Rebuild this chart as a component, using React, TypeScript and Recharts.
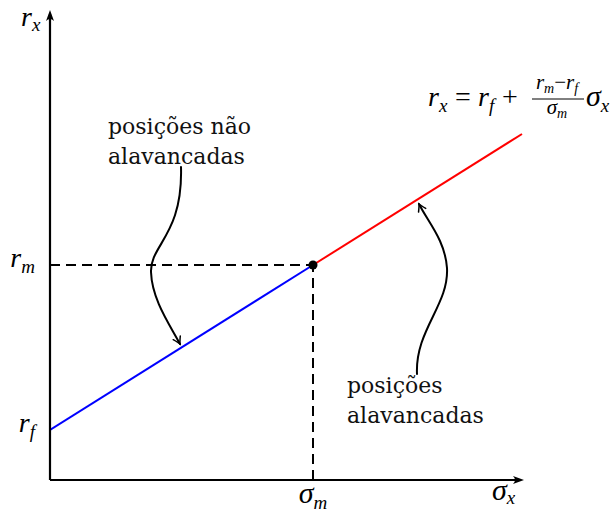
import React from "react";
import {
  ComposedChart,
  Line,
  XAxis,
  YAxis,
  ReferenceLine,
  ReferenceDot,
  Customized,
} from "recharts";

// retorno do ativo livre de risco e da carteira de mercado
const RF = 1;
const RM = 4.3;
const SIGMA_M = 5.26;

const X_MAX = 9.48;
const Y_MAX = 9.4;

// reta do mercado de capitais, dividida no ponto da carteira de mercado
const naoAlavancadas = [
  { x: 0, y: RF },
  { x: SIGMA_M, y: RM },
];
const alavancadas = [
  { x: SIGMA_M, y: RM },
  { x: 9.44, y: 6.92 },
];

const xTicks = [SIGMA_M];
const xTickNames = [["σ", "m"]];
const yTicks = [RF, RM];
const yTickNames = [
  ["r", "f"],
  ["r", "m"],
];

const MATH = "'Liberation Serif', serif";
const TEXT = "'DejaVu Serif', serif";

function MathSym({ x, y, base, sub, anchor = "start", size = 28, subSize = 19, drop = 6 }: any) {
  return (
    <text x={x} y={y} fontFamily={MATH} fontStyle="italic" fontSize={size} textAnchor={anchor} fill="#000">
      <tspan>{base}</tspan>
      <tspan dy={drop} fontSize={subSize}>
        {sub}
      </tspan>
    </text>
  );
}

function XTick(props: any) {
  const i = xTicks.indexOf(props.payload.value);
  const [base, sub] = xTickNames[i] ?? ["", ""];
  return <MathSym x={props.x} y={503} base={base} sub={sub} anchor="middle" size={30} />;
}

function YTick(props: any) {
  const i = yTicks.indexOf(props.payload.value);
  const [base, sub] = yTickNames[i] ?? ["", ""];
  return <MathSym x={35} y={props.y + 2} base={base} sub={sub} anchor="end" />;
}

// seta cheia no fim dos eixos
function arrowAxis(p: any) {
  const { x1, y1, x2, y2 } = p;
  const len = Math.hypot(x2 - x1, y2 - y1) || 1;
  const ux = (x2 - x1) / len;
  const uy = (y2 - y1) / len;
  const nx = -uy;
  const ny = ux;
  const L = 11;
  const W = 4;
  const head = `M${x2},${y2} L${x2 - L * ux + W * nx},${y2 - L * uy + W * ny} Q${x2 - 7 * ux},${y2 - 7 * uy} ${x2 - L * ux - W * nx},${y2 - L * uy - W * ny} Z`;
  return (
    <g>
      <line x1={x1} y1={y1} x2={x2 - 4 * ux} y2={y2 - 4 * uy} stroke="#000" strokeWidth={2.2} />
      <path d={head} fill="#000" />
    </g>
  );
}

function curveArrow(d: string, tx: number, ty: number, cx: number, cy: number) {
  const len = Math.hypot(tx - cx, ty - cy) || 1;
  const ux = (tx - cx) / len;
  const uy = (ty - cy) / len;
  const nx = -uy;
  const ny = ux;
  const head = `M${tx - 7 * ux + 4 * nx},${ty - 7 * uy + 4 * ny} Q${tx - 2 * ux + 0.8 * nx},${ty - 2 * uy + 0.8 * ny} ${tx},${ty} Q${tx - 2 * ux - 0.8 * nx},${ty - 2 * uy - 0.8 * ny} ${tx - 7 * ux - 4 * nx},${ty - 7 * uy - 4 * ny}`;
  return (
    <g fill="none" stroke="#000" strokeWidth={2} strokeLinecap="round">
      <path d={d} />
      <path d={head} strokeWidth={1.5} />
    </g>
  );
}

function Anotacoes() {
  return (
    <g>
      <MathSym x={21} y={26} base="r" sub="x" drop={5} />
      <MathSym x={492} y={500} base="σ" sub="x" drop={4} size={30} />

      {/* equação da reta */}
      <MathSym x={428} y={106} base="r" sub="x" />
      <text x={455} y={106} fontFamily={MATH} fontSize={28}>=</text>
      <MathSym x={478} y={106} base="r" sub="f" />
      <text x={502} y={106} fontFamily={MATH} fontSize={28}>+</text>
      <text x={557} y={89} fontFamily={MATH} fontStyle="italic" fontSize={21} textAnchor="middle">
        <tspan>r</tspan>
        <tspan dy={4} fontSize={14}>m</tspan>
        <tspan dy={-4} fontStyle="normal">−</tspan>
        <tspan>r</tspan>
        <tspan dy={4} fontSize={14}>f</tspan>
      </text>
      <line x1={532} y1={99} x2={584} y2={99} stroke="#000" strokeWidth={1} />
      <MathSym x={557} y={114} base="σ" sub="m" anchor="middle" size={21} subSize={14} drop={4} />
      <MathSym x={586} y={106} base="σ" sub="x" size={30} />

      <text fontFamily={TEXT} fontSize={22} fill="#111">
        <tspan x={108} y={134}>posições não</tspan>
        <tspan x={108} y={164}>alavancadas</tspan>
      </text>
      <text fontFamily={TEXT} fontSize={22} fill="#111">
        <tspan x={347} y={393}>posições</tspan>
        <tspan x={347} y={423}>alavancadas</tspan>
      </text>

      {curveArrow("M181,167 C183,235 150,245 151,272 C152,300 170,325 180,344", 180, 344, 170, 325)}
      {curveArrow("M417,374 C415,330 449,305 447,268 C445,240 428,222 419,204", 419, 204, 428, 222)}
    </g>
  );
}

export default function App() {
  return (
    <div style={{ position: "absolute", left: 0, top: 0, background: "#fff" }}>
      <ComposedChart width={615} height={512} margin={{ top: 10, right: 91, bottom: 0, left: 0 }}>
        <XAxis
          type="number"
          dataKey="x"
          domain={[0, X_MAX]}
          ticks={xTicks}
          axisLine={false}
          tickLine={false}
          tick={XTick}
          height={32}
          allowDataOverflow
        />
        <YAxis
          type="number"
          dataKey="y"
          domain={[0, Y_MAX]}
          ticks={yTicks}
          axisLine={false}
          tickLine={false}
          tick={YTick}
          width={50}
          allowDataOverflow
        />
        <ReferenceLine
          segment={[
            { x: 0, y: RM },
            { x: SIGMA_M, y: RM },
          ]}
          stroke="#000"
          strokeWidth={2}
          strokeDasharray="10 6"
          ifOverflow="visible"
        />
        <ReferenceLine
          segment={[
            { x: SIGMA_M, y: 0 },
            { x: SIGMA_M, y: RM },
          ]}
          stroke="#000"
          strokeWidth={2}
          strokeDasharray="10 6"
          ifOverflow="visible"
        />
        <Line
          data={naoAlavancadas}
          dataKey="y"
          type="linear"
          stroke="#0000ff"
          strokeWidth={2}
          dot={false}
          isAnimationActive={false}
        />
        <Line
          data={alavancadas}
          dataKey="y"
          type="linear"
          stroke="#ff0000"
          strokeWidth={2}
          dot={false}
          isAnimationActive={false}
        />
        <ReferenceLine
          segment={[
            { x: 0, y: 0 },
            { x: X_MAX, y: 0 },
          ]}
          shape={arrowAxis}
          ifOverflow="visible"
        />
        <ReferenceLine
          segment={[
            { x: 0, y: 0 },
            { x: 0, y: Y_MAX },
          ]}
          shape={arrowAxis}
          ifOverflow="visible"
        />
        <ReferenceDot x={SIGMA_M} y={RM} r={4.5} fill="#000" stroke="none" ifOverflow="visible" />
        <Customized component={Anotacoes} />
      </ComposedChart>
    </div>
  );
}
